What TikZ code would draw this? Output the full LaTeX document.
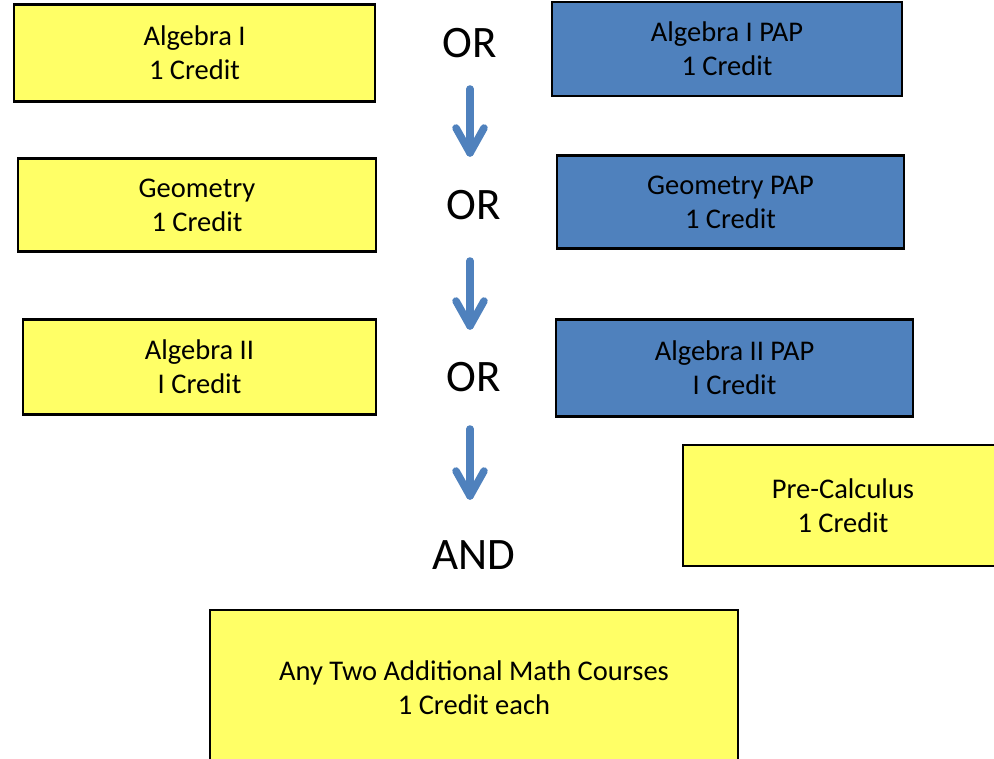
\documentclass[tikz,border=0pt]{standalone}
\usepackage{fontspec}
\setmainfont{Carlito}
\definecolor{boxyellow}{HTML}{FFFF66}
\definecolor{boxblue}{HTML}{4F81BD}
\tikzset{
  course/.style={draw=black, line width=2.2pt, fill=boxyellow, align=center, inner sep=0pt,
    font=\fontsize{28.5}{34}\selectfont},
  pap/.style={course, fill=boxblue},
  word/.style={font=\fontsize{45}{50}\selectfont, inner sep=0pt},
  flowarrow/.style={draw=boxblue, line width=7.5pt, line cap=round, line join=round}
}
\begin{document}
\begin{tikzpicture}[x=1pt,y=-1pt]
\useasboundingbox (0,0) rectangle (994,759);
\node[course, minimum width=361pt, minimum height=97pt] (alg1) at (194.5,53) {Algebra I\\1 Credit};
\node[pap, minimum width=350pt, minimum height=94pt] (alg1p) at (727,49) {Algebra I PAP\\1 Credit};
\node[course, minimum width=358pt, minimum height=93pt] (geo) at (197,205) {Geometry\\1 Credit};
\node[pap, minimum width=347pt, minimum height=93pt] (geop) at (730.5,202) {Geometry PAP\\1 Credit};
\node[course, minimum width=353pt, minimum height=95pt] (alg2) at (199.5,367) {Algebra II\\I Credit};
\node[pap, minimum width=357pt, minimum height=97pt] (alg2p) at (734.5,368) {Algebra II PAP\\I Credit};
\node[course, minimum width=320pt, minimum height=121pt] (pre) at (843,505.5) {Pre-Calculus\\1 Credit};
\node[course, minimum width=528pt, minimum height=156pt] (any) at (474,688) {Any Two Additional Math Courses\\1 Credit each};

\node[word] (or1) at (470,43) {OR};
\node[word] (or2) at (474,205) {OR};
\node[word] (or3) at (474,377) {OR};
\node[word] (and) at (474,555) {AND};

\coordinate (s1) at (470,89);  \coordinate (e1) at (470,153);
\coordinate (s2) at (470,261); \coordinate (e2) at (470,326);
\coordinate (s3) at (470,429); \coordinate (e3) at (470,496);
\foreach \s/\e in {s1/e1, s2/e2, s3/e3}{
  \draw[flowarrow] (\s) -- (\e);
  \draw[flowarrow] ([xshift=-14pt,yshift=25pt]\e) -- (\e) -- ([xshift=14pt,yshift=25pt]\e);
}
\end{tikzpicture}
\end{document}
